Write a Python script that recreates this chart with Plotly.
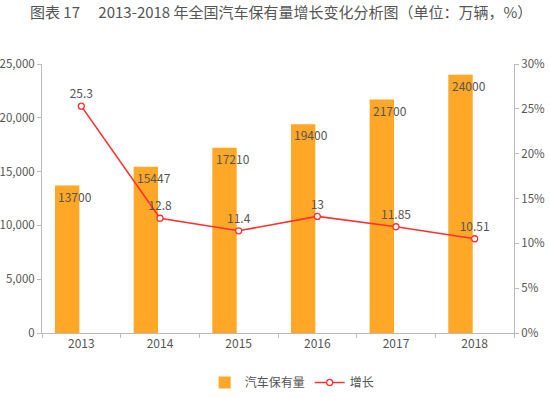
import plotly.graph_objects as go

years = ["2013", "2014", "2015", "2016", "2017", "2018"]
stock = [13700, 15447, 17210, 19400, 21700, 24000]
growth = [25.3, 12.8, 11.4, 13, 11.85, 10.51]
growth_labels = ["25.3", "12.8", "11.4", "13", "11.85", "10.51"]
left_ticks = [0, 5000, 10000, 15000, 20000, 25000]
right_ticks = [0, 5, 10, 15, 20, 25, 30]

FONT = "Noto Sans CJK SC"
TXT = "#555555"

idx = list(range(len(years)))
bounds = [i - 0.5 for i in range(len(years) + 1)]

fig = go.Figure()
fig.add_trace(go.Bar(
    x=idx, y=stock, name="汽车保有量",
    marker=dict(color="#FFA726", line=dict(width=0)),
    offset=-0.335, width=0.31,
    yaxis="y",
))
fig.add_trace(go.Scatter(
    x=idx, y=growth, name="增长", mode="lines+markers+text",
    text=growth_labels, textposition="top center",
    textfont=dict(family=FONT, size=12, color=TXT),
    line=dict(color="#FF3030", width=1.6),
    marker=dict(symbol="circle", size=6, color="white",
                line=dict(color="#FF3030", width=1.3)),
    yaxis="y2",
))

for i, v in zip(idx, stock):
    fig.add_annotation(
        x=i, y=v, xref="x", yref="y", text=str(v), showarrow=False,
        xanchor="left", yanchor="top", xshift=-25, yshift=0,
        font=dict(family=FONT, size=12, color=TXT),
    )

fig.update_layout(
    width=550, height=397,
    margin=dict(l=42, r=36, t=64, b=64, autoexpand=False),
    paper_bgcolor="white", plot_bgcolor="white",
    font=dict(family=FONT, size=12, color=TXT),
    showlegend=True,
    legend=dict(orientation="h", x=0.53, xanchor="center", y=-0.13, yanchor="top",
                font=dict(family=FONT, size=12, color=TXT)),
    xaxis=dict(
        range=[-0.5, len(years) - 0.5], tickvals=idx, ticktext=years,
        showline=True, linecolor="#bbbbbb", linewidth=1, automargin=False,
        ticks="", showgrid=False, zeroline=False,
        tickfont=dict(family=FONT, size=12, color=TXT),
        minor=dict(tickvals=bounds, ticks="outside", ticklen=4, tickcolor="#bbbbbb", showgrid=False),
    ),
    yaxis=dict(
        range=[0, 25000], tickvals=left_ticks, ticktext=[f"{t:,}" for t in left_ticks],
        showline=True, linecolor="#bbbbbb", linewidth=1, automargin=False,
        ticks="outside", ticklen=4, tickcolor="#bbbbbb",
        showgrid=False, zeroline=False,
        tickfont=dict(family=FONT, size=11.5, color=TXT),
    ),
    yaxis2=dict(
        range=[0, 30], tickvals=right_ticks, ticktext=[f"{t}%" for t in right_ticks],
        overlaying="y", side="right", automargin=False,
        showline=True, linecolor="#bbbbbb", linewidth=1,
        ticks="outside", ticklen=4, tickcolor="#bbbbbb",
        showgrid=False, zeroline=False,
        tickfont=dict(family=FONT, size=11.5, color=TXT),
    ),
    title=dict(
        text="图表 17\u3000 2013-2018 年全国汽车保有量增长变化分析图（单位：万辆，%）",
        x=30/550, xanchor="left", y=1 - 13/397, yanchor="middle",
        font=dict(family=FONT, size=15, color=TXT),
    ),
)

fig.write_html(
    "out.html",
    config={"displayModeBar": False},
    post_script="document.body.style.margin='0';document.body.style.overflow='hidden';",
)
